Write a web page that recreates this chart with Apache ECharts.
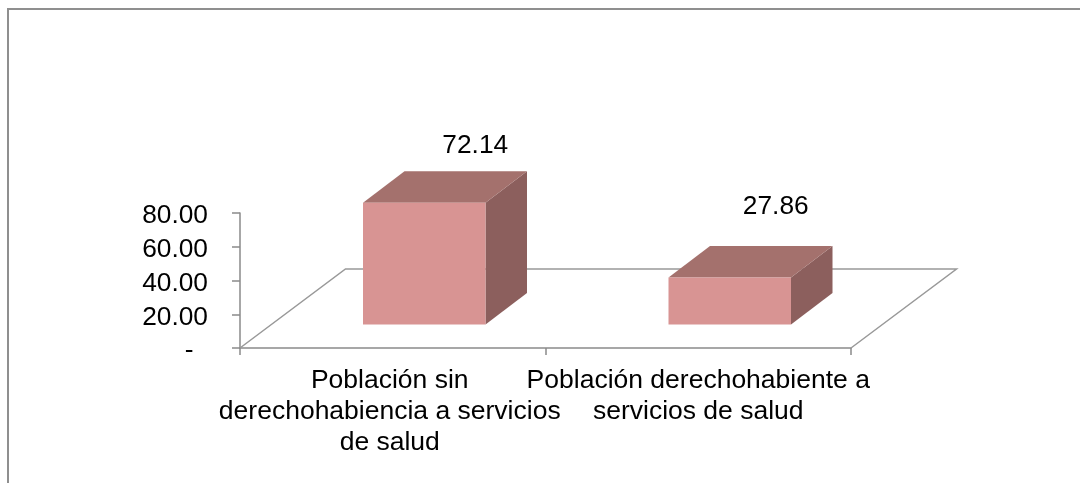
<!DOCTYPE html>
<html><head><meta charset="utf-8">
<style>html,body{margin:0;padding:0;background:#fff}#c{width:1080px;height:483px}</style>
<script src="https://cdn.jsdelivr.net/npm/echarts@6/dist/echarts.min.js"></script>
</head><body><div id="c"></div>
<script>
const categories = ["Población sin\nderechohabiencia a servicios\nde salud", "Población derechohabiente a\nservicios de salud"];
const values = [72.14, 27.86];
const valueLabels = ["72.14", "27.86"];
const yTicks = [0, 20, 40, 60, 80];

const FONT = '"Liberation Sans", Arial, sans-serif';
const SIZE = 26.3;
const CAT_SIZE = 26.5;
const AXIS = '#8a8a8a';
const floorDx = 105.5, floorDy = -79;
const baseDy = -23.5, barShift = 31.5, barW = 122.5;
const depthX = 41.5, depthY = -31.5;
const labelDx = [51, 46], labelLift = [26, 39.5];
const catPadRight = [6, 0];

const chart = echarts.init(document.getElementById('c'), null, {renderer: 'canvas'});

function renderFloor(params, api) {
  const a = api.coord([0, 0]);
  const w = params.coordSys.width;
  const x0 = params.coordSys.x, y0 = a[1];
  return {type: 'polyline', silent: true, z2: 0,
    shape: {points: [[x0, y0], [x0 + floorDx, y0 + floorDy], [x0 + w + floorDx, y0 + floorDy], [x0 + w, y0]]},
    style: {fill: null, stroke: '#999999', lineWidth: 1.5}};
}
function renderBar(params, api) {
  const i = params.dataIndex;
  const c = api.coord([api.value(0), 0]);
  const t = api.coord([api.value(0), api.value(1)]);
  const l = c[0] + barShift - barW / 2, r = l + barW;
  const b = c[1] + baseDy, top = t[1] + baseDy;
  return {type: 'group', children: [
    {type: 'polygon', shape: {points: [[r, top], [r + depthX, top + depthY], [r + depthX, b + depthY], [r, b]]},
      style: {fill: '#8c5f5d'}},
    {type: 'polygon', shape: {points: [[l, top], [l + depthX, top + depthY], [r + depthX, top + depthY], [r, top]]},
      style: {fill: '#a4716d'}},
    {type: 'rect', shape: {x: l, y: top, width: barW, height: b - top},
      style: {fill: '#d89493'}},
    {type: 'text', style: {text: valueLabels[i], x: l + barW / 2 + labelDx[i], y: top + depthY - labelLift[i],
      align: 'center', verticalAlign: 'middle', fill: '#000', font: SIZE + 'px ' + FONT}}
  ]};
}

chart.setOption({
  animation: false,
  backgroundColor: '#fff',
  graphic: [{type: 'polyline', silent: true,
    shape: {points: [[8, 483], [8, 9], [1080, 9]]},
    style: {fill: null, stroke: '#8f8f8f', lineWidth: 2}}],
  grid: {left: 240, right: 229, top: 213, bottom: 135},
  xAxis: {type: 'category',
    data: categories.map((c, i) => ({value: c, textStyle: {padding: [0, catPadRight[i], 0, 0]}})),
    axisLine: {show: true, lineStyle: {color: AXIS, width: 1.5}},
    axisTick: {show: true, length: 7, lineStyle: {color: AXIS, width: 1.5}},
    axisLabel: {color: '#000', fontFamily: 'Liberation Sans', fontSize: CAT_SIZE, lineHeight: 31, margin: 17.5, interval: 0},
    splitLine: {show: false}},
  yAxis: {type: 'value', min: 0, max: 80, interval: 20,
    axisLine: {show: true, lineStyle: {color: AXIS, width: 1.5}},
    axisTick: {show: true, length: 8, lineStyle: {color: AXIS, width: 1.5}},
    axisLabel: {margin: 32,
      customValues: yTicks,
      formatter: v => '{n|' + (v === 0 ? '-  ' : v.toFixed(2)) + '}',
      rich: {n: {color: '#000', fontFamily: 'Liberation Sans', fontSize: SIZE, padding: [6, 0, 0, 0]}}},
    splitLine: {show: false}},
  series: [
    {type: 'custom', z: 1, coordinateSystem: 'cartesian2d', renderItem: renderFloor, data: [[0, 0]], silent: true, clip: false},
    {type: 'custom', z: 3, coordinateSystem: 'cartesian2d', renderItem: renderBar,
      encode: {x: 0, y: 1}, data: values.map((v, i) => [i, v]), silent: true, clip: false}
  ]
});
</script></body></html>
